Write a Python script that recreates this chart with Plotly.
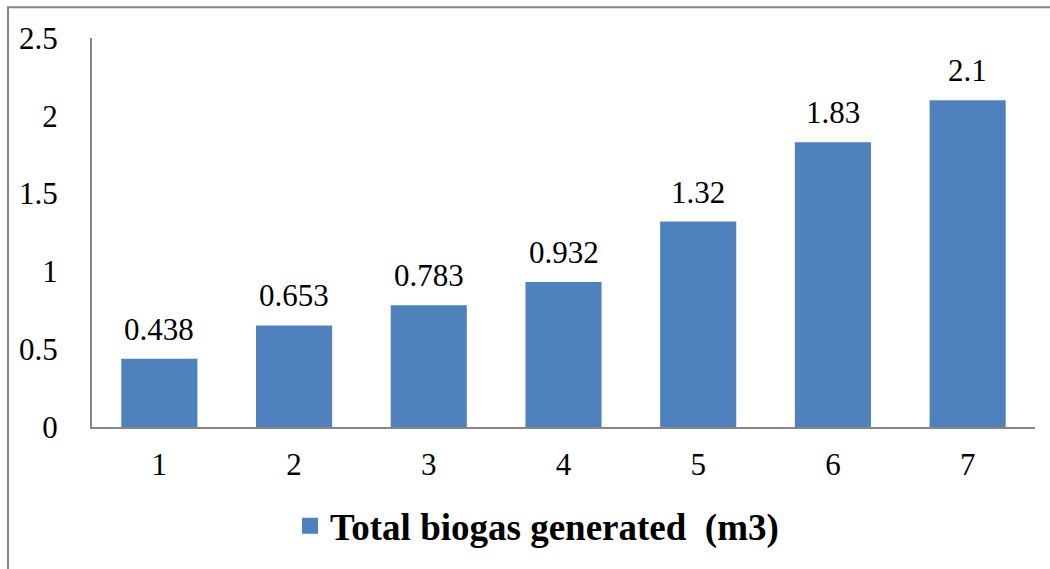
import plotly.graph_objects as go

categories = ["1", "2", "3", "4", "5", "6", "7"]
values = [0.438, 0.653, 0.783, 0.932, 1.32, 1.83, 2.1]
value_labels = ["0.438", "0.653", "0.783", "0.932", "1.32", "1.83", "2.1"]
series_name = "Total biogas generated\u00a0\u00a0(m3)"
y_ticks = [0, 0.5, 1, 1.5, 2, 2.5]
y_tick_labels = ["0", "0.5", "1", "1.5", "2", "2.5"]

W, H = 1050, 569
L, R, T, B = 92, 15, 38, 139
pw, ph = W - L - R, H - T - B

def px_x(p):
    return (p - L) / pw

def px_y(p):
    return (H - B - p) / ph

BAR = "#4F81BD"
AX = "#868686"
FONT = "Liberation Serif, Times New Roman, serif"

fig = go.Figure()
fig.add_trace(go.Bar(
    x=categories, y=values, name=series_name,
    marker=dict(color=BAR, line=dict(width=0)),
    showlegend=False,
))
# legend entry with a larger square swatch
fig.add_trace(go.Scatter(
    x=[None], y=[None], mode="markers", name=series_name,
    marker=dict(symbol="square", size=19, color=BAR), showlegend=True,
))

for i, (v, t) in enumerate(zip(values, value_labels)):
    fig.add_annotation(x=i, y=v, text=t, showarrow=False, xanchor="center",
                       yanchor="bottom", yshift=10,
                       font=dict(family=FONT, size=31, color="#000000"))

fig.add_shape(type="rect", xref="paper", yref="paper",
              x0=px_x(8), x1=px_x(1060), y0=px_y(7), y1=px_y(580),
              line=dict(color=AX, width=2), fillcolor="rgba(0,0,0,0)")

fig.update_layout(
    width=W, height=H,
    margin=dict(l=L, r=R, t=T, b=B),
    paper_bgcolor="white", plot_bgcolor="white",
    bargap=0.435,
    font=dict(family=FONT, size=31, color="#000000"),
    xaxis=dict(type="category", categoryorder="array", categoryarray=categories,
               range=[-0.5, len(categories) - 0.5],
               showline=True, linecolor=AX, linewidth=2, ticks="",
               showgrid=False, zeroline=False, ticklabelstandoff=9, automargin=False,
               tickfont=dict(family=FONT, size=31, color="#000000")),
    yaxis=dict(range=[0, 2.5], tickvals=y_ticks, ticktext=y_tick_labels,
               showline=True, linecolor=AX, linewidth=2, ticks="", automargin=False,
               showgrid=False, zeroline=False, ticklabelstandoff=26,
               tickfont=dict(family=FONT, size=31, color="#000000")),
    legend=dict(orientation="h", x=px_x(290), xanchor="left", y=px_y(530),
                yanchor="middle", bgcolor="rgba(0,0,0,0)",
                font=dict(family=FONT, size=37, color="#000000", weight="bold")),
)

fig.write_html("out.html", config={"displayModeBar": False},
               post_script="document.body.style.margin='0px';")
